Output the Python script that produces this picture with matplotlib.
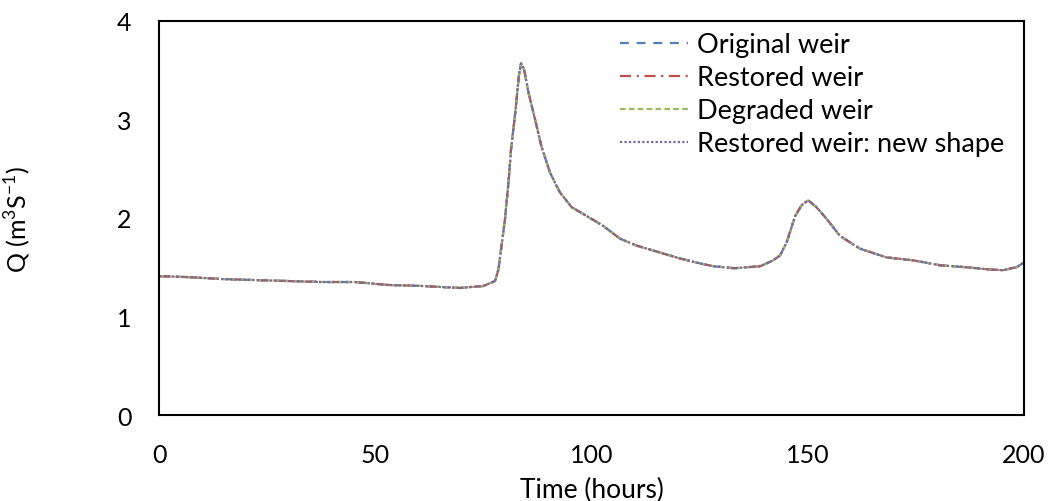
import matplotlib
matplotlib.use("Agg")
import matplotlib.pyplot as plt

plt.rcParams['font.family'] = ['Lato', 'DejaVu Sans']
plt.rcParams['mathtext.fontset'] = 'custom'
plt.rcParams['mathtext.rm'] = 'Lato'

# values (all four runs lie on top of each other)
hours = [0, 6.7, 14.6, 22.2, 29.9, 37.7, 45.3, 53, 60.8, 65, 69.6, 75, 77.7,
         78.5, 79.2, 80, 80.8, 81.4, 82.3, 83.2, 83.7, 84.4, 85.4, 86.9, 88.4,
         90.4, 92.7, 95.4, 98.9, 102.7, 106.6, 110.4, 115, 120.4, 125, 128.2,
         133, 139, 142, 143.6, 145.1, 147.1, 148.6, 150.1, 152, 154.4, 157.4,
         162, 168.2, 174.4, 180.6, 186.7, 191.3, 195.2, 198.3, 200]
q_original = [1.41, 1.40, 1.38, 1.37, 1.36, 1.35, 1.35, 1.32, 1.31, 1.30, 1.29,
              1.31, 1.36, 1.48, 1.72, 1.99, 2.36, 2.70, 3.04, 3.44, 3.57, 3.51,
              3.28, 3.01, 2.73, 2.46, 2.26, 2.11, 2.02, 1.92, 1.79, 1.72, 1.66,
              1.59, 1.54, 1.51, 1.49, 1.51, 1.57, 1.62, 1.75, 2.02, 2.13, 2.18,
              2.11, 1.99, 1.82, 1.69, 1.60, 1.57, 1.52, 1.50, 1.48, 1.47, 1.50,
              1.55]
q_restored = list(q_original)
q_degraded = list(q_original)
q_new_shape = list(q_original)

labels = ["Original weir", "Restored weir", "Degraded weir",
          "Restored weir: new shape"]

fig = plt.figure(figsize=(10.54, 5.02), dpi=100)
ax = fig.add_axes([0.1509, 0.1713, 0.8206, 0.7849])

ax.plot(hours, q_original, color="#4F81BD", lw=1.6, dashes=(4, 3.5), label=labels[0])
ax.plot(hours, q_restored, color="#C0504D", lw=1.6, dashes=(5, 2.5, 1, 2.5), label=labels[1])
ax.plot(hours, q_degraded, color="#9BBB59", lw=1.6, dashes=(2.5, 1.5), label=labels[2])
ax.plot(hours, q_new_shape, color="#8064A2", lw=1.6, dashes=(1, 1), label=labels[3])

ax.set_xlim(0, 200)
ax.set_ylim(0, 4)
ax.set_xticks([0, 50, 100, 150, 200])
ax.set_yticks([0, 1, 2, 3, 4])
ax.tick_params(length=0, labelsize=18, pad=20)
for s in ax.spines.values():
    s.set_linewidth(1.5)

ax.set_xlabel("Time (hours)", fontsize=19)
ax.xaxis.set_label_coords(0.5, -0.158)
ax.set_ylabel(r"Q (m$^{\mathrm{3}}$S$^{\mathrm{-1}}$)", fontsize=18)
ax.yaxis.set_label_coords(-0.146, 0.5)

ax.legend(loc="upper left", bbox_to_anchor=(0.533, 0.972), frameon=False,
          fontsize=19.5, handlelength=2.5, handletextpad=0.35,
          labelspacing=0.3, borderpad=0, borderaxespad=0)

fig.savefig("out.png", dpi=100)
